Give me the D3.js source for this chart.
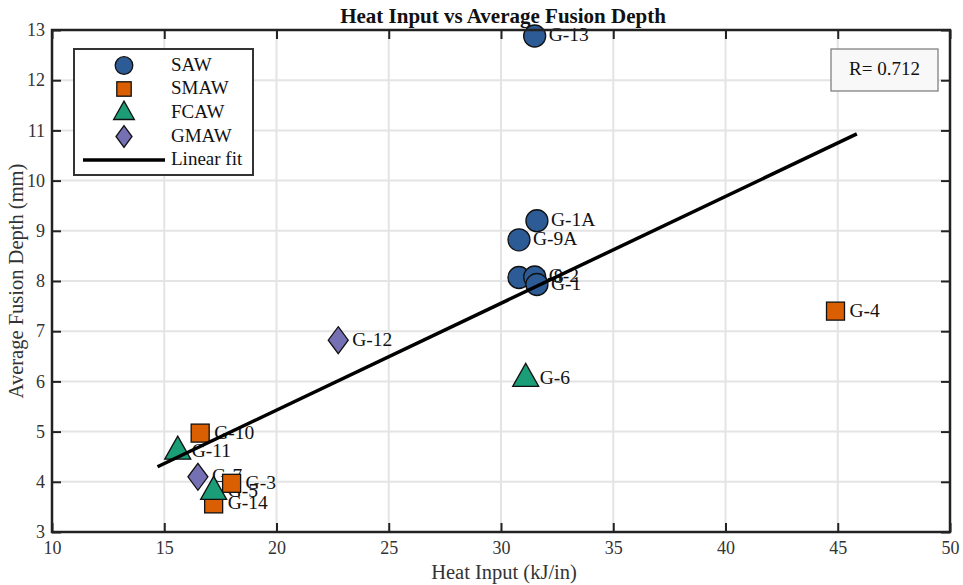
<!DOCTYPE html>
<html><head><meta charset="utf-8">
<script src="https://cdn.jsdelivr.net/npm/d3@7"></script>
<style>body{margin:0;background:#fff}svg{display:block;font-family:"Liberation Serif","Times New Roman",serif}</style>
</head><body><svg id="c" width="963" height="585"></svg>
<script>
// ---- data ----
const groups = ["SAW", "SMAW", "FCAW", "GMAW"];
const groupColors = ["#2c5b96", "#d95f02", "#1b9e77", "#7570b3"];
const sawNames = ["G-13", "G-1A", "G-9A", "G-8", "G-2", "G-1"];
const sawX = [31.5, 31.6, 30.8, 30.8, 31.5, 31.6];
const sawY = [12.88, 9.2, 8.82, 8.07, 8.08, 7.93];
const smawNames = ["G-4", "G-10", "G-3", "G-14"];
const smawX = [44.9, 16.6, 18.0, 17.2];
const smawY = [7.4, 4.97, 3.97, 3.56];
const fcawNames = ["G-6", "G-11", "G-5"];
const fcawX = [31.1, 15.6, 17.2];
const fcawY = [6.05, 4.6, 3.8];
const gmawNames = ["G-12", "G-7"];
const gmawX = [22.75, 16.5];
const gmawY = [6.82, 4.1];
const fitX = [14.7, 45.85];
const fitY = [4.3, 10.93];
const rText = "R= 0.712";
const xTicks = [10, 15, 20, 25, 30, 35, 40, 45, 50];
const yTicks = [3, 4, 5, 6, 7, 8, 9, 10, 11, 12, 13];
const titleText = "Heat Input vs Average Fusion Depth";
const xLabel = "Heat Input (kJ/in)";
const yLabel = "Average Fusion Depth (mm)";
const legendLabels = ["SAW", "SMAW", "FCAW", "GMAW", "Linear fit"];

// ---- layout ----
const L = 52, R = 950, T = 30, B = 532;
const svg = d3.select("#c");
const x = d3.scaleLinear().domain([10, 50]).range([L, R]);
const y = d3.scaleLinear().domain([3, 13]).range([B, T]);

// grid
svg.append("g").selectAll("line").data(xTicks.slice(1, -1)).join("line")
  .attr("x1", d => x(d)).attr("x2", d => x(d)).attr("y1", T).attr("y2", B)
  .attr("stroke", "#e4e4e4").attr("stroke-width", 2);
svg.append("g").selectAll("line").data(yTicks.slice(1, -1)).join("line")
  .attr("y1", d => y(d)).attr("y2", d => y(d)).attr("x1", L).attr("x2", R)
  .attr("stroke", "#e4e4e4").attr("stroke-width", 2);

// axes (inward ticks on all four sides)
const tl = 9;
const axB = svg.append("g").attr("transform", `translate(0,${B})`)
  .call(d3.axisBottom(x).tickValues(xTicks).tickSizeInner(-tl).tickSizeOuter(0).tickPadding(9));
const axT = svg.append("g").attr("transform", `translate(0,${T})`)
  .call(d3.axisTop(x).tickValues(xTicks).tickSizeInner(-tl).tickSizeOuter(0).tickFormat(""));
const axL = svg.append("g").attr("transform", `translate(${L},0)`)
  .call(d3.axisLeft(y).tickValues(yTicks).tickSizeInner(-tl).tickSizeOuter(0).tickPadding(7));
const axR = svg.append("g").attr("transform", `translate(${R},0)`)
  .call(d3.axisRight(y).tickValues(yTicks).tickSizeInner(-tl).tickSizeOuter(0).tickFormat(""));
[axB, axT, axL, axR].forEach(a => {
  a.select(".domain").remove();
  a.selectAll(".tick line").attr("stroke", "#222").attr("stroke-width", 2);
  a.selectAll("text").attr("font-family", "Liberation Serif").attr("font-size", 18).attr("fill", "#333");
});
axB.selectAll("text").attr("dy", "0.71em");

// labels, then markers, then fit line
const all = [
  {names: sawNames, xs: sawX, ys: sawY, g: 0},
  {names: smawNames, xs: smawX, ys: smawY, g: 1},
  {names: fcawNames, xs: fcawX, ys: fcawY, g: 2},
  {names: gmawNames, xs: gmawX, ys: gmawY, g: 3}
];
const pts = [];
all.forEach(s => s.names.forEach((n, i) => pts.push({name: n, x: s.xs[i], y: s.ys[i], g: s.g})));

svg.append("g").selectAll("text").data(pts).join("text")
  .attr("x", d => x(d.x) + 14).attr("y", d => y(d.y) + 1)
  .attr("dominant-baseline", "middle").attr("font-size", 19.5).attr("fill", "#111")
  .text(d => d.name);

function marker(sel, g, k) {
  const c = groupColors[g];
  let p;
  if (g === 0) p = sel.append("circle").attr("r", 11 * k);
  else if (g === 1) p = sel.append("rect").attr("x", -9 * k).attr("y", -9 * k).attr("width", 18 * k).attr("height", 18 * k);
  else if (g === 2) p = sel.append("path").attr("d", `M0,${-15.5 * k}L${13 * k},${7.5 * k}L${-13 * k},${7.5 * k}Z`);
  else p = sel.append("path").attr("d", `M0,${-13.5 * k}L${10 * k},0L0,${13.5 * k}L${-10 * k},0Z`);
  p.attr("fill", c).attr("stroke", "#111").attr("stroke-width", 1.3);
}
pts.forEach(d => {
  const gg = svg.append("g").attr("transform", `translate(${x(d.x)},${y(d.y)})`);
  marker(gg, d.g, 1);
});

svg.append("line")
  .attr("x1", x(fitX[0])).attr("y1", y(fitY[0])).attr("x2", x(fitX[1])).attr("y2", y(fitY[1]))
  .attr("stroke", "#000").attr("stroke-width", 3.5);

// frame
svg.append("rect").attr("x", L).attr("y", T).attr("width", R - L).attr("height", B - T)
  .attr("fill", "none").attr("stroke", "#222").attr("stroke-width", 2.5);

// title & axis labels
svg.append("text").attr("x", (L + R) / 2 + 2).attr("y", 23).attr("text-anchor", "middle")
  .attr("font-weight", "bold").attr("font-size", 21).attr("fill", "#111").text(titleText);
svg.append("text").attr("x", (L + R) / 2 + 3).attr("y", 579).attr("text-anchor", "middle")
  .attr("font-size", 20.5).attr("fill", "#333").text(xLabel);
svg.append("text").attr("transform", `translate(23,${(T + B) / 2}) rotate(-90)`).attr("text-anchor", "middle")
  .attr("font-size", 20.5).attr("fill", "#333").text(yLabel);

// legend
const lg = svg.append("g");
lg.append("rect").attr("x", 74).attr("y", 49).attr("width", 179).attr("height", 126)
  .attr("fill", "#fff").attr("stroke", "#333").attr("stroke-width", 2);
const rowY = [65.5, 89, 112.5, 136.5, 160];
legendLabels.forEach((lab, i) => {
  if (i < 4) {
    const gg = lg.append("g").attr("transform", `translate(124,${rowY[i] + (i === 2 ? 1 : 0)})`);
    marker(gg, i, 0.8);
  } else {
    lg.append("line").attr("x1", 83).attr("x2", 165).attr("y1", rowY[i]).attr("y2", rowY[i])
      .attr("stroke", "#000").attr("stroke-width", 3.5);
  }
  lg.append("text").attr("x", 171).attr("y", rowY[i] + 1).attr("dominant-baseline", "middle")
    .attr("font-size", 19).attr("fill", "#111").text(lab);
});

// R box
svg.append("rect").attr("x", 831).attr("y", 49).attr("width", 107).attr("height", 42)
  .attr("fill", "#f8f8f8").attr("stroke", "#777").attr("stroke-width", 1.2);
svg.append("text").attr("x", 884.5).attr("y", 71).attr("text-anchor", "middle").attr("dominant-baseline", "middle")
  .attr("font-size", 19).attr("fill", "#111").text(rText);
</script></body></html>
